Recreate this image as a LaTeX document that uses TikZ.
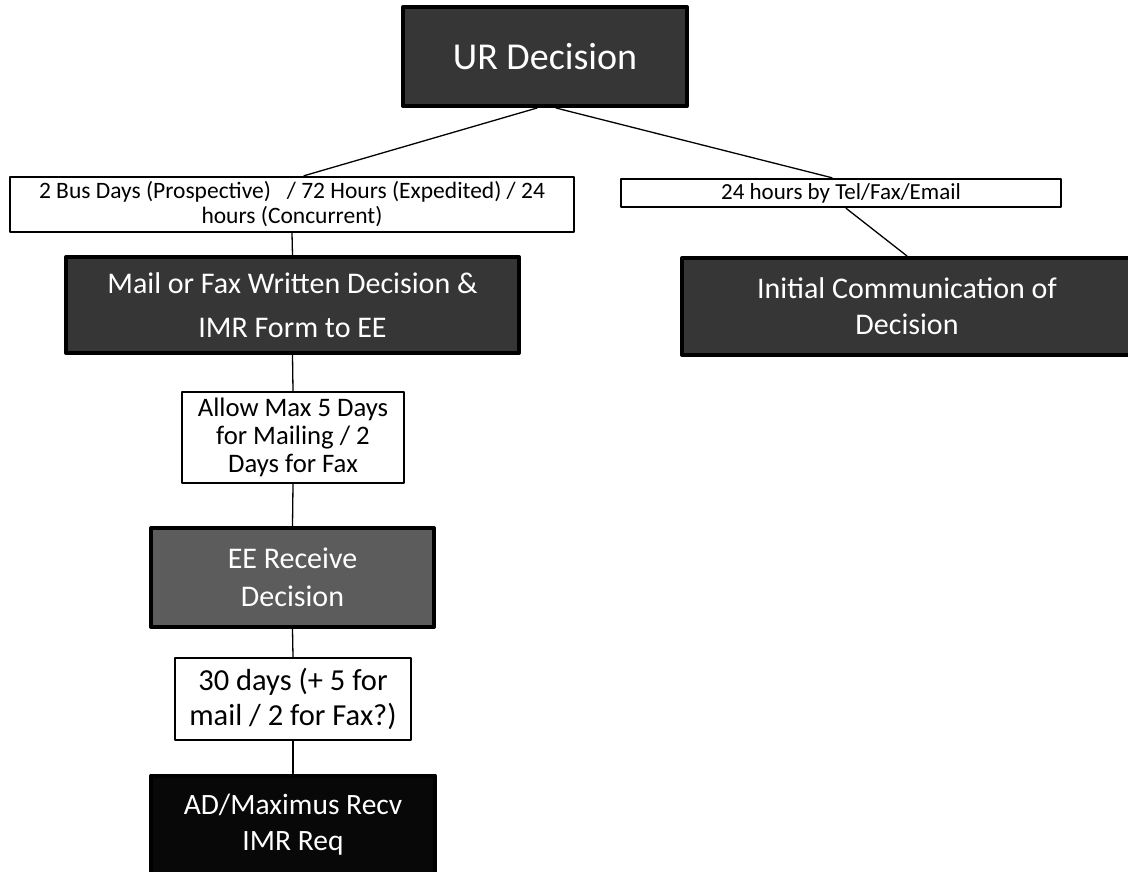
\documentclass[tikz,border=0pt]{standalone}
\usepackage{fontspec}
\setmainfont{Carlito}
\definecolor{urgrey}{HTML}{363636}
\definecolor{eegrey}{HTML}{5C5C5C}
\definecolor{adblack}{HTML}{080808}
\begin{document}
\begin{tikzpicture}[x=1pt, y=-1pt, line join=round, line cap=round,
		darkbox/.style={draw=black, line width=4pt, text=white, align=center, inner sep=0pt, font=\fontsize{30}{44}\selectfont},
		textbox/.style={draw=black, fill=white, line width=2.5pt, align=center, inner sep=0pt},
		link/.style={line width=1.3pt}]
			\useasboundingbox (0,0) rectangle (1128,871);
			% top
			\node[darkbox, fill=urgrey, minimum width=284, minimum height=99, font=\fontsize{38}{44}\selectfont] (ur) at (545,56.5) {UR Decision};
			% timing labels
			\node[textbox, minimum width=564, minimum height=55, font=\fontsize{23.5}{25}\selectfont] (prosp) at (292,204.5)
				{2 Bus Days (Prospective) \ \ / 72 Hours (Expedited) / 24\\hours (Concurrent)};
			\node[textbox, minimum width=440, minimum height=28, font=\fontsize{23}{24}\selectfont] (tel) at (841,193) {24 hours by Tel/Fax/Email};
			% left column
			\node[darkbox, fill=urgrey, minimum width=453, minimum height=96] (mail) at (292.5,305) {Mail or Fax Written Decision \&\\IMR Form to EE};
			\node[textbox, minimum width=222, minimum height=91, font=\fontsize{26.7}{28}\selectfont] (allow) at (293,437.5) {Allow Max 5 Days\\for Mailing / 2\\Days for Fax};
			\node[darkbox, fill=eegrey, minimum width=283, minimum height=99, font=\fontsize{30}{38}\selectfont] (ee) at (292.5,577.5) {EE Receive\\Decision};
			\node[textbox, minimum width=236, minimum height=82, font=\fontsize{30.5}{35}\selectfont] (days) at (293,699) {30 days (+ 5 for\\mail / 2 for Fax?)};
			\node[darkbox, fill=adblack, minimum width=284, minimum height=99, font=\fontsize{29.5}{36}\selectfont] (ad) at (293,825) {AD/Maximus Recv\\IMR Req};
			% right column
			\node[darkbox, fill=urgrey, minimum width=450, minimum height=97, font=\fontsize{30}{36}\selectfont] (init) at (907,306.5) {Initial Communication of\\Decision};
			% connectors
			\draw[link] ([xshift=-8]ur.south) -- ([xshift=12]prosp.north);
			\draw[link] ([xshift=11]ur.south) -- ([xshift=-9]tel.north);
			\draw[link] ([xshift=5]tel.south) -- (init.north);
			\draw[link] (prosp.south) -- (mail.north);
			\draw[link] (mail.south) -- (allow.north);
			\draw[link] (allow.south) -- (ee.north);
			\draw[link] (ee.south) -- (days.north);
			\draw[link] (days.south) -- (ad.north);
		\end{tikzpicture}
\end{document}
